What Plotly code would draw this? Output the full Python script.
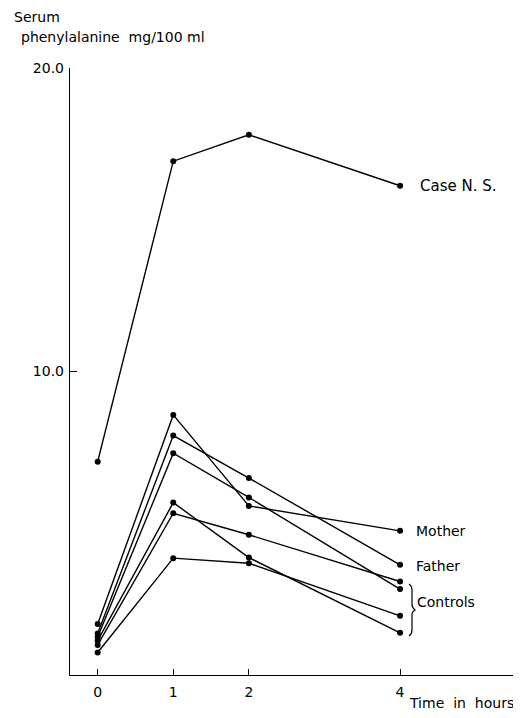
import plotly.graph_objects as go

hours = [0, 1, 2, 4]
case_ns = [7.03, 16.93, 17.80, 16.12]
mother = [1.68, 8.57, 5.57, 4.75]
father = [1.37, 7.89, 6.49, 3.63]
control_1 = [1.25, 7.31, 5.85, 2.83]
control_2 = [1.13, 5.68, 3.87, 1.39]
control_3 = [0.99, 5.33, 4.62, 3.08]
control_4 = [0.74, 3.85, 3.68, 1.95]

series = [case_ns, mother, father, control_1, control_2, control_3, control_4]

y_ticks = [10, 20]
y_tick_labels = ["10.0", "20.0"]
x_ticks = [0, 1, 2, 4]
x_tick_labels = ["0", "1", "2", "4"]

FONT = "DejaVu Sans"

# page body has an 8px default margin; the figure is sized to fill the rest
OFF = 8
W, H = 521 - OFF, 718 - OFF
# plot area in window pixels
L, R, T, B = 70, 521, 68, 675
XMIN, XMAX = -0.366, 5.6
YMIN, YMAX = 0, 20

fig = go.Figure()
for s in series:
    fig.add_trace(go.Scatter(
        x=hours, y=s, mode="lines+markers",
        line=dict(color="black", width=1.4),
        marker=dict(color="black", size=6),
        showlegend=False, hoverinfo="skip",
    ))


def px_to_x(px):
    return XMIN + (px - L) / (R - L) * (XMAX - XMIN)


def py_to_y(py):
    return YMIN + (B - py) / (B - T) * (YMAX - YMIN)


def px_to_paper(px):
    return (px - L) / (R - L)


def py_to_paper(py):
    return (B - py) / (B - T)


# brace next to the controls
pts = [(409, 584), (412, 586), (412, 604), (412, 608), (415, 610), (412, 612),
       (412, 616), (412, 634), (409, 636)]
c = [(px_to_x(a), py_to_y(b)) for a, b in pts]
path = (f"M {c[0][0]},{c[0][1]} Q {c[1][0]},{c[1][1]} {c[1][0]},{py_to_y(590)} "
        f"L {c[2][0]},{c[2][1]} Q {c[3][0]},{c[3][1]} {c[4][0]},{c[4][1]} "
        f"Q {c[5][0]},{c[5][1]} {c[5][0]},{py_to_y(614)} "
        f"L {c[7][0]},{py_to_y(630)} Q {c[7][0]},{c[7][1]} {c[8][0]},{c[8][1]}")
fig.add_shape(type="path", path=path, xref="x", yref="y",
              line=dict(color="black", width=1.2))

ann_font = dict(family=FONT, size=14, color="black")
labels = [
    ("Case N. S.", 421, case_ns[-1], 15),
    ("Mother", 417, mother[-1], 14),
    ("Father", 417, 3.6, 14),
    ("Controls", 418, 2.41, 14),
]
for text, px, y, fs in labels:
    fig.add_annotation(x=px_to_x(px), y=y, xref="x", yref="y", text=text,
                       showarrow=False, xanchor="left", yanchor="middle",
                       xshift=-3,
                       font=dict(family=FONT, size=fs, color="black"))

fig.add_annotation(x=px_to_paper(13), y=py_to_paper(17), xref="paper", yref="paper",
                   text="Serum", showarrow=False, xanchor="left", yanchor="middle",
                   borderpad=0, font=ann_font)
fig.add_annotation(x=px_to_paper(22), y=py_to_paper(37), xref="paper", yref="paper",
                   text="phenylalanine  mg/100 ml", showarrow=False,
                   xanchor="left", yanchor="middle", xshift=-3, font=ann_font)
fig.add_annotation(x=px_to_paper(410), y=py_to_paper(703), xref="paper", yref="paper",
                   text="Time  in  hours", showarrow=False,
                   xanchor="left", yanchor="middle", xshift=-3,
                   font=dict(family=FONT, size=14, color="black"))

fig.update_xaxes(range=[XMIN, XMAX], showgrid=False, zeroline=False,
                 showline=True, linecolor="black", linewidth=1.4,
                 tickmode="array", tickvals=x_ticks, ticktext=x_tick_labels,
                 ticks="inside", ticklen=6, tickcolor="black", tickwidth=1,
                 ticklabelstandoff=4,
                 tickfont=dict(family=FONT, size=14, color="black"))
fig.update_yaxes(range=[YMIN, YMAX], showgrid=False, zeroline=False,
                 showline=True, linecolor="black", linewidth=1.4,
                 tickmode="array", tickvals=y_ticks, ticktext=y_tick_labels,
                 ticks="inside", ticklen=7, tickcolor="black", tickwidth=1.2,
                 ticklabelstandoff=2,
                 tickfont=dict(family=FONT, size=14, color="black"))

fig.update_layout(
    width=W, height=H,
    margin=dict(l=L - OFF, r=521 - R, t=T - OFF, b=718 - B),
    paper_bgcolor="white", plot_bgcolor="white",
    font=dict(family=FONT, color="black"),
)

fig.write_html("out.html")
